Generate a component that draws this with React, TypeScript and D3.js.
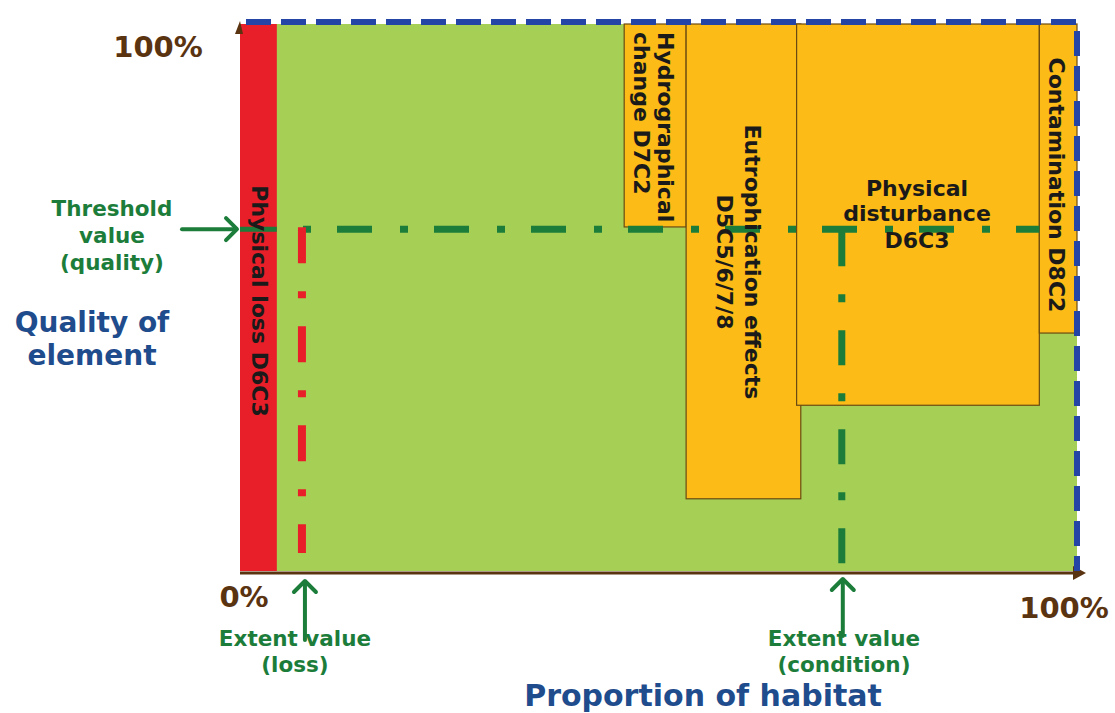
import React from "react";
import * as d3 from "d3";

// ---- data (percent of habitat extent / percent of quality) ----
const pressureNames = ["Hydrographical change D7C2", "Eutrophication effects D5C5/6/7/8", "Physical disturbance D6C3", "Contamination D8C2"];
const pressureX0 = [45.9, 53.3, 66.5, 95.5];
const pressureX1 = [53.3, 67.0, 95.5, 100];
const pressureQualityLow = [62.9, 13.2, 30.3, 43.5];
const lossName = "Physical loss D6C3";
const lossExtent = [0, 4.4];
const thresholdQuality = 62.5;
const extentLossValue = 7.4;
const extentConditionValue = 71.9;
const axisTickLabels = ["0%", "100%"];

const W = 1115, H = 713;
const FONT = "'DejaVu Sans', Verdana, sans-serif";
const GREEN_FILL = "#a6cf55";
const RED = "#e81f29";
const ORANGE = "#fcbb16";
const BLUE = "#2444a6";
const DKGREEN = "#1c7d3b";
const BROWN = "#5a3311";
const TITLE_BLUE = "#1f4c8c";

export default function App() {
  const x = d3.scaleLinear().domain([0, 100]).range([240, 1077]);
  const y = d3.scaleLinear().domain([0, 100]).range([571, 24]);
  const ty = y(thresholdQuality);
  const xl = x(extentLossValue);
  const xc = x(extentConditionValue);

  const arrowHead = (tx: number, tyy: number, dir: "right" | "up") => {
    const s = 11;
    if (dir === "right") return `M${tx - s},${tyy - s} L${tx},${tyy} L${tx - s},${tyy + s}`;
    return `M${tx - s},${tyy + s} L${tx},${tyy} L${tx + s},${tyy + s}`;
  };

  return (
    <svg width={W} height={H} style={{ display: "block", position: "absolute", left: 0, top: 0, background: "#fff" }}>
      {/* green quality area */}
      <rect x={x(0)} y={y(100)} width={x(100) - x(0)} height={y(0) - y(100)} fill={GREEN_FILL} />
      {/* physical loss */}
      <rect x={x(lossExtent[0])} y={y(100)} width={x(lossExtent[1]) - x(lossExtent[0])} height={y(0) - y(100)} fill={RED} />
      {/* pressure boxes */}
      {pressureNames.map((n, i) => (
        <rect key={n} x={x(pressureX0[i])} y={y(100)} width={x(pressureX1[i]) - x(pressureX0[i])}
          height={y(pressureQualityLow[i]) - y(100)} fill={ORANGE} stroke="#6a4a12" strokeWidth={1.2} />
      ))}

      {/* axes */}
      <line x1={x(0)} y1={y(0) + 2} x2={1080} y2={y(0) + 2} stroke={BROWN} strokeWidth={3} />
      <path d={`M1073,${y(0) - 5} L1086,${y(0) + 2} L1073,${y(0) + 9} Z`} fill={BROWN} />
      <path d={`M${x(0) - 5},34 L${x(0)},21 L${x(0) + 3},34 Z`} fill={BROWN} />

      {/* blue dashed boundary (top and right) */}
      <path d={`M${x(0) + 6},${y(100) - 2} L${x(100)},${y(100) - 2} L${x(100)},${y(0)}`} fill="none"
        stroke={BLUE} strokeWidth={6} strokeDasharray="25,10" />

      {/* threshold line */}
      <line x1={x(0)} y1={ty} x2={x(lossExtent[1])} y2={ty} stroke={DKGREEN} strokeWidth={5} />
      <line x1={303} y1={ty} x2={x(pressureX1[2])} y2={ty} stroke={DKGREEN} strokeWidth={7}
        strokeDasharray="8,26,35,28" />
      {/* extent loss line */}
      <line x1={xl} y1={ty - 2} x2={xl} y2={553} stroke={RED} strokeWidth={8} strokeDasharray="36,28,7,28" />
      {/* extent condition line */}
      <line x1={xc} y1={ty + 2} x2={xc} y2={y(0)} stroke={DKGREEN} strokeWidth={7} strokeDasharray="35,28,8,28" />

      {/* arrows */}
      <g stroke={DKGREEN} strokeWidth={4} fill="none" strokeLinecap="round" strokeLinejoin="round">
        <line x1={182} y1={ty} x2={236} y2={ty} />
        <path d={arrowHead(237, ty, "right")} />
        <line x1={xl + 3} y1={640} x2={xl + 3} y2={582} />
        <path d={arrowHead(xl + 3, 581, "up")} />
        <line x1={xc + 1} y1={636} x2={xc + 1} y2={580} />
        <path d={arrowHead(xc + 1, 579, "up")} />
      </g>

      {/* box labels */}
      <g fontFamily={FONT} fontWeight="bold" fill="#1a1a1a" fontSize={22}>
        <text transform={`translate(252,301) rotate(90)`} textAnchor="middle">{lossName}</text>
        <text transform={`translate(658,32) rotate(90)`} textAnchor="start">
          <tspan x={0} dy={0}>Hydrographical</tspan>
          <tspan x={0} dy={24}>change D7C2</tspan>
        </text>
        <text transform={`translate(745,262) rotate(90)`} textAnchor="middle">
          <tspan x={0} dy={0}>Eutrophication effects</tspan>
          <tspan x={0} dy={28}>D5C5/6/7/8</tspan>
        </text>
        <text transform={`translate(1049,185) rotate(90)`} textAnchor="middle">Contamination D8C2</text>
        <text x={917} y={196} textAnchor="middle">
          <tspan x={917} dy={0}>Physical</tspan>
          <tspan x={917} dy={25}>disturbance</tspan>
          <tspan x={917} dy={27}>D6C3</tspan>
        </text>
      </g>

      {/* axis tick labels */}
      <g fontFamily={FONT} fontWeight="bold" fill={BROWN} fontSize={29}>
        <text x={158} y={57} textAnchor="middle">100%</text>
        <text x={244} y={607} textAnchor="middle">{axisTickLabels[0]}</text>
        <text x={1064} y={618} textAnchor="middle">{axisTickLabels[1]}</text>
      </g>

      {/* annotation labels */}
      <g fontFamily={FONT} fontWeight="bold" fill={DKGREEN} fontSize={21.5}>
        <text x={112} y={216} textAnchor="middle">Threshold</text>
        <text x={112} y={243} textAnchor="middle">value</text>
        <text x={112} y={270} textAnchor="middle">(quality)</text>
        <text x={295} y={646} textAnchor="middle">Extent value</text>
        <text x={295} y={672} textAnchor="middle">(loss)</text>
        <text x={844} y={646} textAnchor="middle">Extent value</text>
        <text x={844} y={672} textAnchor="middle">(condition)</text>
      </g>

      {/* axis titles */}
      <g fontFamily={FONT} fontWeight="bold" fill={TITLE_BLUE}>
        <text x={92} y={332} textAnchor="middle" fontSize={28}>Quality of</text>
        <text x={92} y={365} textAnchor="middle" fontSize={28}>element</text>
        <text x={703} y={706} textAnchor="middle" fontSize={30}>Proportion of habitat</text>
      </g>
    </svg>
  );
}
